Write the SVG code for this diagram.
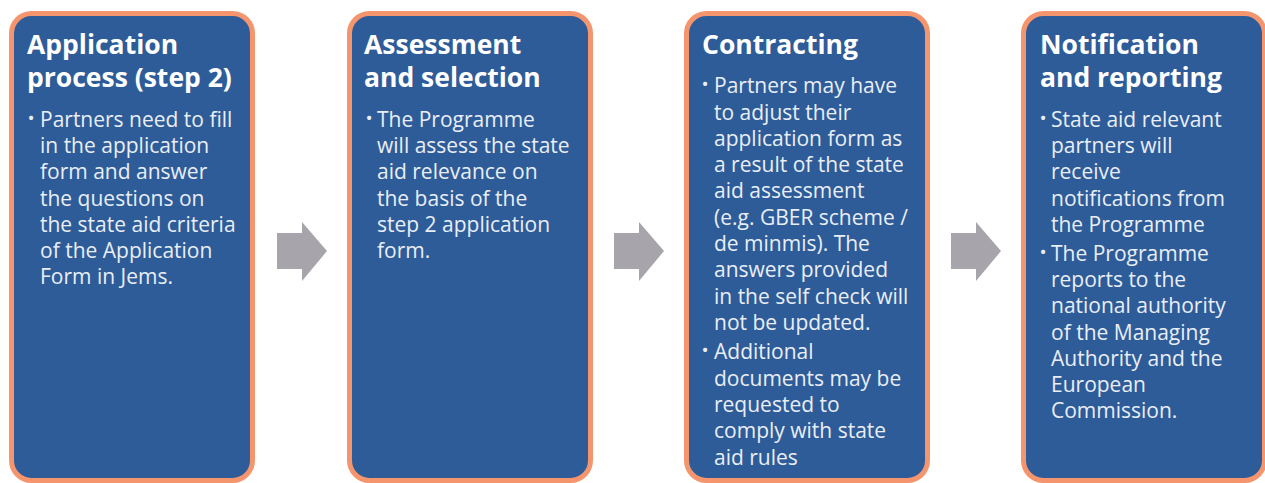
<svg xmlns="http://www.w3.org/2000/svg" width="1265" height="483" viewBox="0 0 1265 483">
<style>
.box{fill:#2E5C99;stroke:#F4956E;stroke-width:5}
.title{font-family:"Open Sans","Liberation Sans",sans-serif;font-weight:bold;font-size:26.5px;fill:#FFFFFF}
.body{font-family:"Open Sans","Liberation Sans",sans-serif;font-size:21px;fill:#E9EEF6}
.bul{font-family:"Open Sans","Liberation Sans",sans-serif;font-size:19px;fill:#E9EEF6;text-anchor:middle}
.arrow{fill:#A8A4AC}
</style>
<rect width="1265" height="483" fill="#FFFFFF"/>
<g id="connectors">
<polygon class="arrow" points="277,233 302,233 302,222 327,251 302,281 302,269 277,269"/>
<polygon class="arrow" points="614,233 639,233 639,222 664,251 639,281 639,269 614,269"/>
<polygon class="arrow" points="951,233 976,233 976,222 1001,251 976,281 976,269 951,269"/>
</g>
<g id="node-application">
<rect class="box" x="11.5" y="13.5" width="241" height="467" rx="20"/>
<text class="title" x="27" y="54">Application</text>
<text class="title" x="27" y="87">process (step 2)</text>
<text class="bul" x="31" y="125">•</text>
<text class="body" x="40"><tspan x="40" y="127">Partners need to fill</tspan><tspan x="40" y="153">in the application</tspan><tspan x="40" y="179">form and answer</tspan><tspan x="40" y="206">the questions on</tspan><tspan x="40" y="232">the state aid criteria</tspan><tspan x="40" y="258">of the Application</tspan><tspan x="40" y="284">Form in Jems.</tspan></text>
</g>
<g id="node-assessment">
<rect class="box" x="349.5" y="13.5" width="241" height="467" rx="20"/>
<text class="title" x="364" y="54">Assessment</text>
<text class="title" x="364" y="87">and selection</text>
<text class="bul" x="369" y="125">•</text>
<text class="body"><tspan x="377" y="127">The Programme</tspan><tspan x="377" y="153">will assess the state</tspan><tspan x="377" y="179">aid relevance on</tspan><tspan x="377" y="206">the basis of the</tspan><tspan x="377" y="232">step 2 application</tspan><tspan x="377" y="258">form.</tspan></text>
</g>
<g id="node-contracting">
<rect class="box" x="686.5" y="13.5" width="241" height="467" rx="20"/>
<text class="title" x="702" y="54">Contracting</text>
<text class="bul" x="705" y="91">•</text>
<text class="body"><tspan x="714" y="93">Partners may have</tspan><tspan x="714" y="119.5">to adjust their</tspan><tspan x="714" y="146">application form as</tspan><tspan x="714" y="172">a result of the state</tspan><tspan x="714" y="198">aid assessment</tspan><tspan x="714" y="224.5">(e.g. GBER scheme /</tspan><tspan x="714" y="251">de minmis). The</tspan><tspan x="714" y="277">answers provided</tspan><tspan x="714" y="303.5">in the self check will</tspan><tspan x="714" y="330">not be updated.</tspan></text>
<text class="bul" x="705" y="357">•</text>
<text class="body"><tspan x="714" y="359">Additional</tspan><tspan x="714" y="385.5">documents may be</tspan><tspan x="714" y="412">requested to</tspan><tspan x="714" y="438">comply with state</tspan><tspan x="714" y="464.5">aid rules</tspan></text>
</g>
<g id="node-notification">
<rect class="box" x="1023.5" y="13.5" width="241" height="467" rx="20"/>
<text class="title" x="1040" y="54">Notification</text>
<text class="title" x="1040" y="87">and reporting</text>
<text class="bul" x="1043" y="125">•</text>
<text class="body"><tspan x="1051" y="127">State aid relevant</tspan><tspan x="1051" y="153">partners will</tspan><tspan x="1051" y="179">receive</tspan><tspan x="1051" y="206">notifications from</tspan><tspan x="1051" y="232">the Programme</tspan></text>
<text class="bul" x="1043" y="259">•</text>
<text class="body"><tspan x="1051" y="261">The Programme</tspan><tspan x="1051" y="287">reports to the</tspan><tspan x="1051" y="313">national authority</tspan><tspan x="1051" y="340">of the Managing</tspan><tspan x="1051" y="366">Authority and the</tspan><tspan x="1051" y="392">European</tspan><tspan x="1051" y="418">Commission.</tspan></text>
</g>
</svg>
